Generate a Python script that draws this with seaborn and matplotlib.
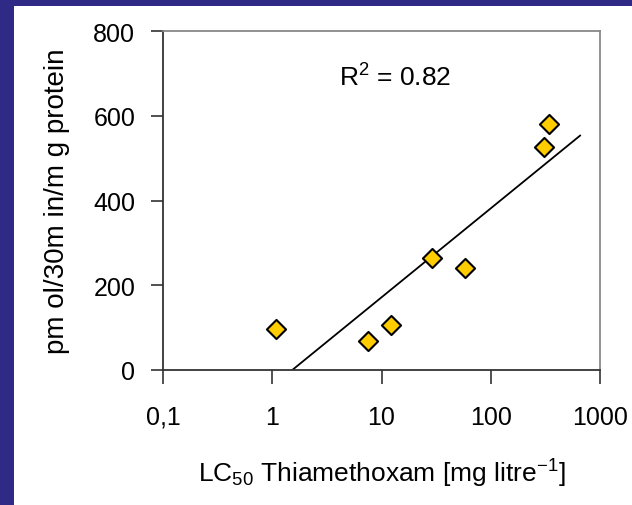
import numpy as np
import pandas as pd
import matplotlib
matplotlib.use("Agg")
import matplotlib.pyplot as plt
from matplotlib.patches import Rectangle
import seaborn as sns

# LC50 values (mg/litre) and enzyme activity
lc50 = [1.08, 7.6, 12.2, 28.9, 58.3, 308, 343]
activity = [97, 69, 107, 264, 240, 526, 580]
x_ticks = [0.1, 1, 10, 100, 1000]
x_tick_labels = ["0,1", "1", "10", "100", "1000"]
y_ticks = [0, 200, 400, 600, 800]

df = pd.DataFrame({"lc50": lc50, "activity": activity})

# logarithmic trendline y = a + b*log10(x)
b, a = np.polyfit(np.log10(df["lc50"]), df["activity"], 1)
pred = a + b * np.log10(df["lc50"])
r2 = 1 - ((df["activity"] - pred) ** 2).sum() / ((df["activity"] - df["activity"].mean()) ** 2).sum()
xs = np.geomspace(1, 660, 200)
fit = pd.DataFrame({"lc50": xs, "activity": a + b * np.log10(xs)})

sns.set_style("ticks")
plt.rcParams["font.family"] = ["Liberation Sans", "DejaVu Sans"]
plt.rcParams["mathtext.default"] = "regular"
plt.rcParams["text.color"] = "black"
plt.rcParams["axes.labelcolor"] = "black"

fig = plt.figure(figsize=(6.32, 5.06), dpi=100)
fig.patch.set_facecolor("white")
# blue slide border on left and top
fig.patches.append(Rectangle((0, 0), 14 / 632, 1, transform=fig.transFigure,
                             facecolor="#2E2A85", edgecolor="none", zorder=0))
fig.patches.append(Rectangle((0, 1 - 7 / 506), 1, 7 / 506, transform=fig.transFigure,
                             facecolor="#2E2A85", edgecolor="none", zorder=0))

ax = fig.add_axes([163 / 632, 135 / 506, 437 / 632, 339 / 506])

sns.lineplot(data=fit, x="lc50", y="activity", color="black", linewidth=1.3, ax=ax, zorder=2)
sns.scatterplot(data=df, x="lc50", y="activity", marker="D", s=95, color="#FFCC00",
                edgecolor="black", linewidth=1.5, ax=ax, zorder=3)

ax.set_xscale("log")
ax.set_xlim(0.1, 1000)
ax.set_ylim(0, 800)
ax.set_xticks(x_ticks)
ax.set_xticklabels(x_tick_labels)
ax.minorticks_off()
ax.set_yticks(y_ticks)
ax.tick_params(axis="y", labelsize=18, length=9, width=1.2, pad=11, color="#333333", labelcolor="black")
ax.tick_params(axis="x", labelsize=18, length=10, width=1.2, pad=15, color="#333333", labelcolor="black")

for side in ["left", "bottom"]:
    ax.spines[side].set_color("#333333")
    ax.spines[side].set_linewidth(1.3)
for side in ["top", "right"]:
    ax.spines[side].set_visible(True)
    ax.spines[side].set_color("#888888")
    ax.spines[side].set_linewidth(1.3)

ax.set_xlabel(r"LC$_{50}$ Thiamethoxam [mg litre$^{-1}$]", fontsize=19)
ax.xaxis.set_label_coords(0.5, -0.255)
ax.set_ylabel("pm ol/30m in/m g protein", fontsize=20)
ax.yaxis.set_label_coords(-0.213, 0.5)

ax.text(13.3, 691, f"R$^2$ = {r2:.2f}", fontsize=19, ha="center", va="center")

fig.savefig("out.png", dpi=100)
